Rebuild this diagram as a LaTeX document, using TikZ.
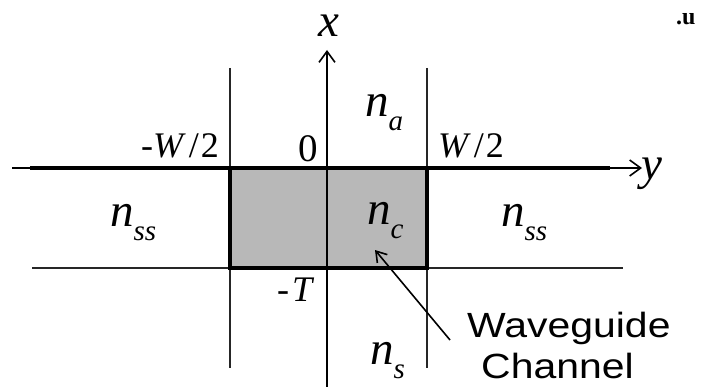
\documentclass[tikz,border=0pt]{standalone}
\usepackage{fontspec}
\usepackage{graphicx}
\setmainfont{Liberation Serif}
\newfontfamily\labsans{Liberation Sans}
\usetikzlibrary{arrows.meta}
\newcommand\nlab[2]{{\fontsize{47}{47}\selectfont\textit{#1}\raisebox{-14pt}{\fontsize{29}{29}\selectfont\textit{#2}}}}
\newcommand\plab[1]{{\fontsize{36}{36}\selectfont #1}}
\newcommand\slab[1]{\scalebox{1.17}[1]{\fontsize{35}{35}\selectfont\labsans #1}}
\tikzset{
  lbl/.style={inner sep=0pt, anchor=base west},
  thinline/.style={line width=1.4pt, black!85},
  axisline/.style={line width=4pt},
  barb/.style={-{Straight Barb[length=11pt,width=16pt,line width=1.6pt]}},
}
\begin{document}
\begin{tikzpicture}[x=1pt,y=-1pt]
\useasboundingbox (0,0) rectangle (706,387);
% coordinates
\coordinate (xb) at (327,387);
\coordinate (xt) at (327,50);
\coordinate (yl) at (12,168);
\coordinate (yr) at (642,168);
\coordinate (ll) at (32,268);
\coordinate (lr) at (623,268);
\coordinate (vlt) at (230,68);
\coordinate (vlb) at (230,368);
\coordinate (vrt) at (427,68);
\coordinate (vrb) at (427,368);
\coordinate (cbl) at (230,268);
\coordinate (ctr) at (427,168);
% channel fill
\fill[black!28] (cbl) rectangle (ctr);
% thin lines
\draw[thinline] (vlt) -- (vlb);
\draw[thinline] (vrt) -- (vrb);
\draw[thinline] (ll) -- (lr);
\draw[line width=1.4pt, barb] (xb) -- (xt);
% channel border
\draw[line width=3.2pt] (cbl) rectangle (ctr);
% y axis
\draw[line width=1.4pt] (yl) -- (32,168);
\draw[axisline] (30,168) -- (610,168);
\draw[line width=2.2pt, barb] (600,168) -- (yr);
% labels
\node[lbl] (lx) at (318,37) {\nlab{x}{}};
\node[lbl] (ly) at (641,180) {\nlab{y}{}};
\node[lbl] (na) at (365,117) {\nlab{n}{a}};
\node[lbl] (nssl) at (110,226) {\nlab{n}{ss}};
\node[lbl] (nc) at (367,225) {\nlab{n}{c}};
\node[lbl] (nssr) at (501,226) {\nlab{n}{ss}};
\node[lbl] (ns) at (370,364) {\nlab{n}{s}};
\node[lbl] (mw) at (141,158) {\plab{-\textit{W}\kern3pt/\kern2pt2}};
\node[lbl] (zero) at (298,162) {\fontsize{39}{39}\selectfont 0};
\node[lbl] (pw) at (438,158) {\plab{\textit{W}\kern3pt/\kern2pt2}};
\node[lbl] (mt) at (277,301) {\plab{-\kern3pt\textit{T}}};
\node[lbl] (wg) at (467,337) {\slab{Waveguide}};
\node[lbl] (ch) at (481,378) {\slab{Channel}};
\node[lbl] (art) at (676,25) {\fontsize{24}{24}\selectfont\textbf{.u}};
% pointer arrow
\coordinate (ptail) at (450,340);
\coordinate (ptip) at (375,250);
\draw[line width=1.6pt, -{Straight Barb[length=10pt,width=13pt,line width=1.6pt]}] (ptail) -- (ptip);
\end{tikzpicture}
\end{document}
